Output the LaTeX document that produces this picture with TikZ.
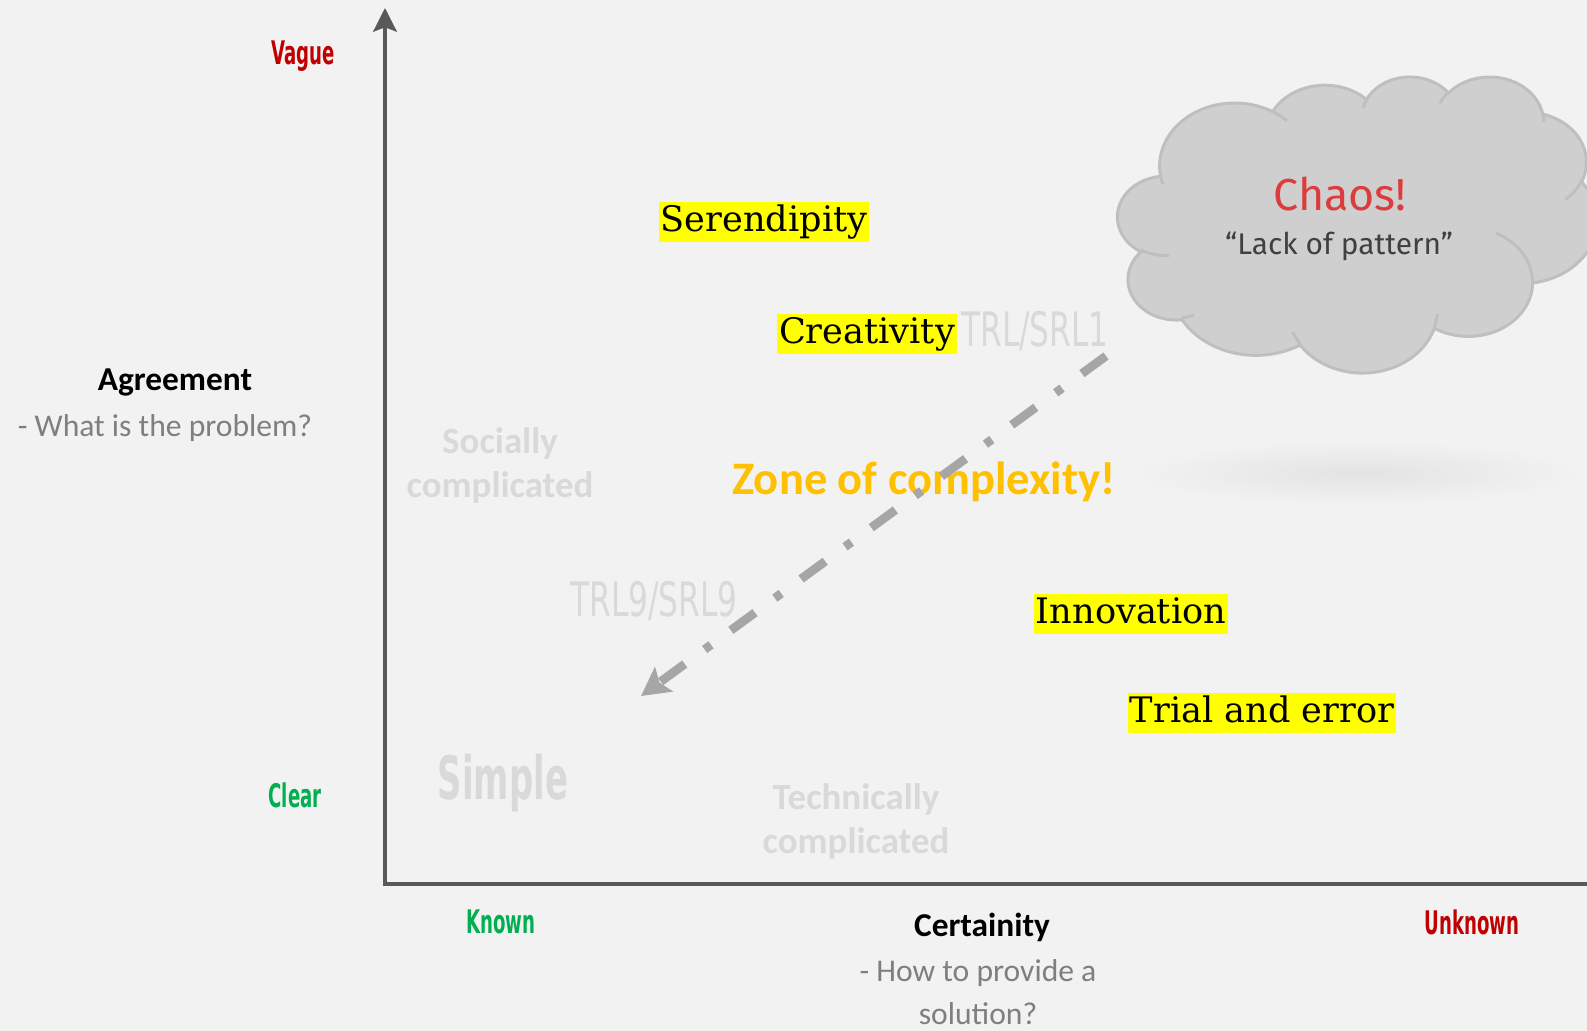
\documentclass[tikz,border=0pt]{standalone}
\usepackage{fontspec}
\usepackage{graphicx}
\setmainfont{Carlito}
\newfontfamily\wordfont{DejaVu Serif}
\newfontfamily\narrowfont{DejaVu Sans Condensed}
\newfontfamily\handfont{Fira Sans}
\usetikzlibrary{arrows.meta}
\definecolor{bg}{HTML}{F2F2F2}
\definecolor{axis}{HTML}{595959}
\definecolor{vaguered}{HTML}{C00000}
\definecolor{cleargreen}{HTML}{00B050}
\definecolor{asktext}{HTML}{7F7F7F}
\definecolor{faint}{HTML}{D9D9D9}
\definecolor{zone}{HTML}{FFC000}
\definecolor{marker}{HTML}{FFFF00}
\definecolor{cloudfill}{HTML}{CFCFCF}
\definecolor{cloudline}{HTML}{BFBFBF}
\definecolor{chaosred}{HTML}{DC3C3C}
\definecolor{lackgray}{HTML}{404040}
\definecolor{flow}{HTML}{A6A6A6}
\newcommand{\narrow}[2]{\scalebox{#1}[1]{#2}}
\tikzset{
  px/.style={x=0.02cm,y=-0.02cm},
  marked/.style={fill=marker,text=black,inner xsep=1pt,inner ysep=1.5pt,
    text height=15pt,text depth=4.5pt,font=\wordfont\fontsize{20}{22}\selectfont},
  axisname/.style={font=\bfseries\fontsize{19}{23}\selectfont},
  ask/.style={text=asktext,align=center,font=\fontsize{18}{24.5}\selectfont},
  pole/.style={font=\narrowfont\bfseries\fontsize{18.5}{20}\selectfont},
  region/.style={text=faint,align=center,font=\bfseries\fontsize{21}{25}\selectfont},
  level/.style={text=faint,font=\narrowfont\fontsize{27}{30}\selectfont},
}
\begin{document}
\begin{tikzpicture}[px]
  \useasboundingbox[fill=bg] (0,0) rectangle (1587,1031);
  \shade[inner color=black!11,outer color=bg] (1358,473) ellipse (222 and 32);
  \begin{scope}[shift={(1117,76)},xscale=1.1111,yscale=0.68519,draw=cloudline,line width=1.7pt]
    \filldraw[fill=cloudfill] (39.00,143.70)
      arc[start angle=172.25,end angle=300.36,x radius=67.53,y radius=91.90]
      arc[start angle=-152.03,end angle=-45.44,x radius=53.33,y radius=72.67]
      arc[start angle=-153.49,end angle=-37.33,x radius=43.65,y radius=59.45]
      arc[start angle=-139.73,end angle=-10.22,x radius=48.57,y radius=65.95]
      arc[start angle=-74.77,end angle=23.21,x radius=53.33,y radius=72.73]
      arc[start angle=-37.52,end angle=81.86,x radius=67.75,y radius=92.20]
      arc[start angle=0.46,end angle=121.98,x radius=57.85,y radius=78.67]
      arc[start angle=16.84,end angle=146.23,x radius=67.52,y radius=92.15]
      arc[start angle=58.98,end angle=149.48,x radius=77.20,y radius=105.43]
      arc[start angle=83.31,end angle=223,x radius=43.60,y radius=59.18]
      arc[start angle=120.8,end angle=264,x radius=43.45,y radius=59.45]
      -- cycle;
    \draw (46.93,261.77) arc[start angle=85.54,end angle=120.36,x radius=43.45,y radius=59.45];
    \draw (69.28,348.99) arc[start angle=68.24,end angle=83.31,x radius=43.60,y radius=59.18];
    \draw (164.78,390.90) arc[start angle=146.23,end angle=158.47,x radius=67.52,y radius=92.15];
    \draw (288.27,347.51) arc[start angle=4.74,end angle=16.84,x radius=67.52,y radius=92.15];
    \draw (341.29,229.54) arc[start angle=-64.03,end angle=0.46,x radius=57.85,y radius=78.67];
    \draw (417.98,153.54) arc[start angle=23.21,end angle=49.64,x radius=53.33,y radius=72.73];
    \draw (383.24,54.26) arc[start angle=-10.22,end angle=0.82,x radius=48.57,y radius=65.95];
    \draw (290.78,39.52) arc[start angle=-156.29,end angle=-139.73,x radius=48.57,y radius=65.95];
    \draw (221.41,47.20) arc[start angle=-167.72,end angle=-153.49,x radius=43.65,y radius=59.45];
    \draw (140.00,51.92) arc[start angle=-59.64,end angle=-45.73,x radius=67.53,y radius=91.90];
    \draw (41.27,157.89) arc[start angle=163.19,end angle=172.25,x radius=67.53,y radius=91.90];
  \end{scope}
  \draw
    (303,56) node[pole,text=vaguered] (vague) {\narrow{0.62}{Vague}}
    (295,795) node[pole,text=cleargreen] (clear) {\narrow{0.62}{Clear}}
    (501,922) node[pole,text=cleargreen] (known) {\narrow{0.62}{Known}}
    (1472,922) node[pole,text=vaguered] (unknown) {\narrow{0.62}{Unknown}}
    (175,383) node[axisname] (agree) {Agreement}
    (165,428) node[ask] (agreeq) {- What is the problem?}
    (982,927) node[axisname] (certain) {Certainity}
    (978,992) node[ask] (certainq) {- How to provide a\\solution?}
    (500,465) node[region] (social) {Socially\\complicated}
    (856,821) node[region] (tech) {Technically\\complicated}
    (503,783) node[text=faint,font=\narrowfont\bfseries\fontsize{34}{36}\selectfont] (simple) {\narrow{0.63}{Simple}}
    (1035,331) node[level] (trl1) {\narrow{0.73}{TRL/SRL1}}
    (654,601) node[level] (trl9) {\narrow{0.73}{TRL9/SRL9}}
    (924,482) node[text=zone,font=\bfseries\fontsize{26.5}{28}\selectfont] (zone) {Zone of complexity!}
    (764,222) node[marked] (seren) {Serendipity}
    (867,334) node[marked] (creat) {Creativity}
    (1131,614) node[marked] (innov) {Innovation}
    (1262,713) node[marked] (trial) {Trial and error}
    (1340,194) node[text=chaosred,font=\handfont\fontsize{25.5}{28}\selectfont] (chaosname) {Chaos!}
    (1339,246) node[text=lackgray,font=\handfont\fontsize{17}{20}\selectfont] (lack) {“Lack of pattern”};
  \coordinate (up) at (385,8);
  \coordinate (origin) at (385,884);
  \coordinate (right) at (1600,884);
  \coordinate (from) at (1106,356);
  \coordinate (to) at (641,696);
  \begin{scope}[-{Stealth[length=13.5pt,width=13.5pt,inset=2.5pt]}]
    \draw[axis,line width=1.8pt,{Stealth[length=13.5pt,width=13.5pt,inset=2.5pt]}-] (up) -- (origin) to (right);
    \draw[flow,line width=5pt,dash pattern=on 17pt off 14pt on 4.5pt off 14pt,
      -{Stealth[length=16pt,width=17pt,inset=3pt]}] (from) to (to);
  \end{scope}
\end{tikzpicture}
\end{document}
